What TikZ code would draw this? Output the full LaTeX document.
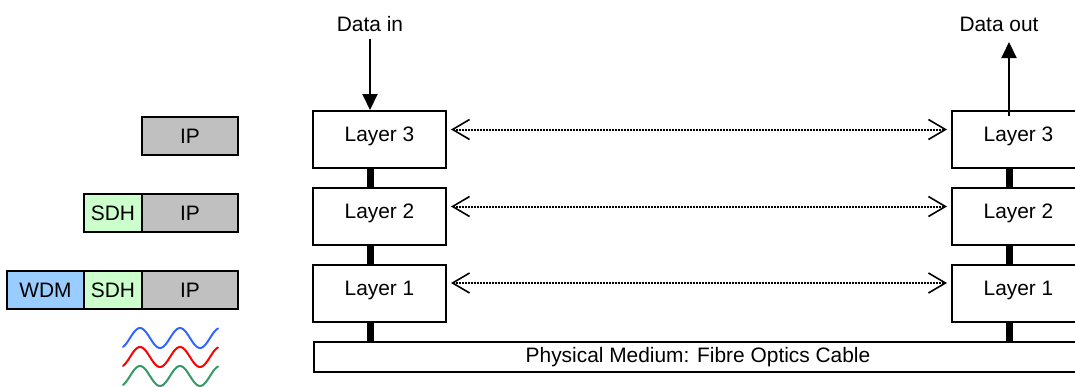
\documentclass[tikz,border=0pt]{standalone}
\usepackage{fontspec}
\setmainfont{Liberation Sans}
\usetikzlibrary{arrows.meta}
\definecolor{ipgray}{HTML}{C0C0C0}
\definecolor{sdhgreen}{HTML}{CCFFCC}
\definecolor{wdmblue}{HTML}{99CCFF}
\definecolor{waveblue}{HTML}{3366FF}
\definecolor{wavered}{HTML}{FF0000}
\definecolor{wavegreen}{HTML}{339966}
\begin{document}
\begin{tikzpicture}[x=1pt,y=-1pt,
  font=\fontsize{20.9pt}{24pt}\selectfont,
  layerbox/.style={draw,line width=2pt,fill=white,minimum width=133pt,
    minimum height=57pt,inner sep=0pt,text height=14pt,text depth=10pt},
  stackbox/.style={draw,line width=2pt,minimum height=38pt,inner sep=0pt},
  ipbox/.style={stackbox,fill=ipgray,minimum width=96pt},
  sdhbox/.style={stackbox,fill=sdhgreen,minimum width=58pt},
  wdmbox/.style={stackbox,fill=wdmblue,minimum width=77pt},
  stack/.style={line width=7pt},
  dataflow/.style={line width=2pt,-{Triangle[width=15pt,length=16pt]}},
  peer/.style={line width=2pt,dash pattern=on 1.5pt off 1.5pt,
    {Straight Barb[length=17pt,width=20pt,line width=1.6pt]}-{Straight Barb[length=17pt,width=20pt,line width=1.6pt]},
    shorten <=4pt,shorten >=4pt},
  wave/.style={line width=2pt,line cap=round}]
\useasboundingbox (0,0) rectangle (1075,386);

% protocol stacks on the left
\node[ipbox] (ipA) at (190,136) {IP};
\node[sdhbox] (sdhB) at (113,213) {SDH};
\node[ipbox] (ipB) at (190,213) {IP};
\node[wdmbox] (wdmC) at (45.5,290) {WDM};
\node[sdhbox] (sdhC) at (113,290) {SDH};
\node[ipbox] (ipC) at (190,290) {IP};

% wavelengths carried by WDM
\draw[wave,waveblue] plot[domain=123:218,samples=80] (\x,{338+10*cos(9*(\x-120))});
\draw[wave,wavered] plot[domain=123:218,samples=80] (\x,{357+10*cos(9*(\x-120))});
\draw[wave,wavegreen] plot[domain=123:218,samples=80] (\x,{376+10*cos(9*(\x-120))});

% physical medium
\node[draw,line width=2pt,fill=white,minimum width=768pt,minimum height=30pt,inner sep=0pt]
  (phy) at (698,357) {Physical Medium: Fibre Optics Cable};

% sending and receiving layer stacks
\node[layerbox] (l3) at (379.5,139.5) {Layer 3};
\node[layerbox] (l2) at (379.5,216.5) {Layer 2};
\node[layerbox] (l1) at (379.5,293) {Layer 1};
\node[layerbox] (r3) at (1018.5,139.5) {Layer 3};
\node[layerbox] (r2) at (1018.5,216.5) {Layer 2};
\node[layerbox] (r1) at (1018.5,293) {Layer 1};

% vertical links between layers
\draw[stack] ([xshift=-9.5pt]l3.south) -- ([xshift=-9.5pt]l2.north);
\draw[stack] ([xshift=-9.5pt]l2.south) -- ([xshift=-9.5pt]l1.north);
\draw[stack] ([xshift=-9.5pt]l1.south) -- ([xshift=-9.5pt]l1.south |- phy.north);
\draw[stack] ([xshift=-9.5pt]r3.south) -- ([xshift=-9.5pt]r2.north);
\draw[stack] ([xshift=-9.5pt]r2.south) -- ([xshift=-9.5pt]r1.north);
\draw[stack] ([xshift=-9.5pt]r1.south) -- ([xshift=-9.5pt]r1.south |- phy.north);

% peer-to-peer communication
\draw[peer] ([yshift=10pt]l3.east) -- ([yshift=10pt]r3.west);
\draw[peer] ([yshift=10pt]l2.east) -- ([yshift=10pt]r2.west);
\draw[peer] ([yshift=10pt]l1.east) -- ([yshift=10pt]r1.west);

% data entering and leaving
\node (din) at (370,24) {Data in};
\node (dout) at (999,24) {Data out};
\coordinate (dinstart) at (370,39);
\coordinate (doutend) at (1009,42);
\draw[dataflow] (dinstart) -- (dinstart |- l3.north);
\draw[dataflow] ([yshift=-6pt]doutend |- r3.north) -- (doutend);
\end{tikzpicture}
\end{document}
